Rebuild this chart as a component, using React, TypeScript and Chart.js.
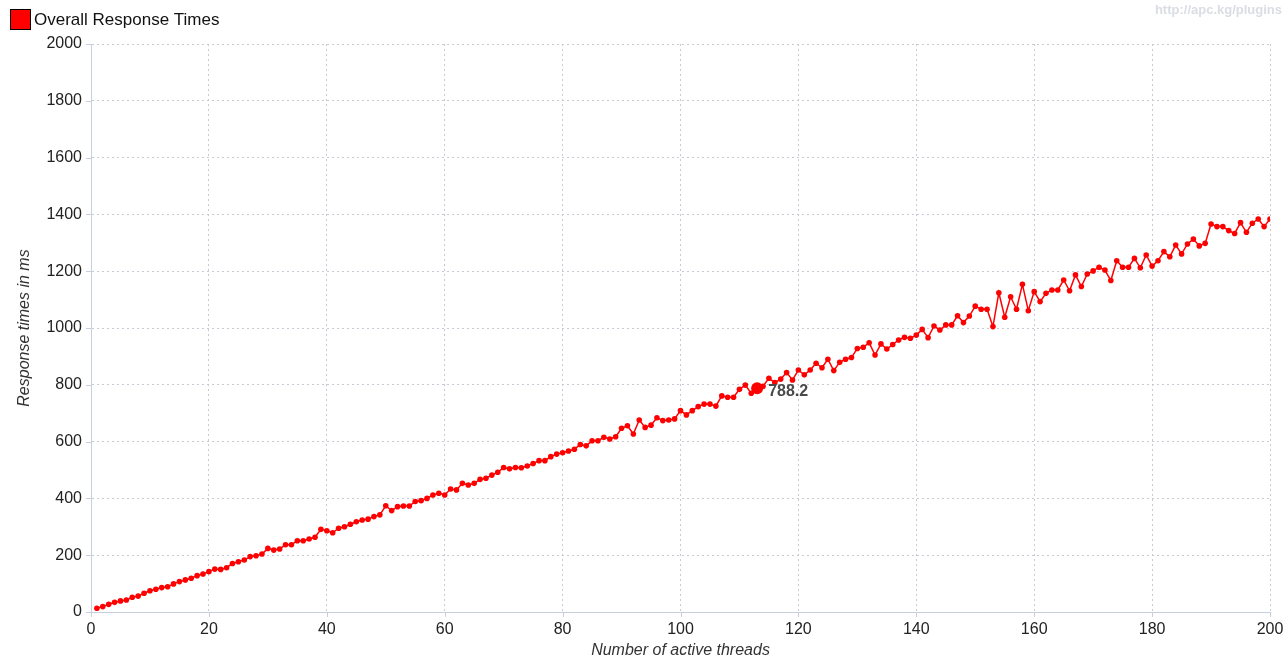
import React, { useEffect, useRef } from "react";
import { Chart, registerables } from "chart.js";

Chart.register(...registerables);

const seriesLabel = "Overall Response Times";
const xTitle = "Number of active threads";
const yTitle = "Response times in ms";
const watermark = "http://apc.kg/plugins";

const threads: number[] = Array.from({ length: 200 }, (_, i) => i + 1);

const responseTimes: number[] = [
  13, 19, 27, 34, 39, 42, 52, 56, 66, 75, 80, 86, 89, 99, 107, 113, 119, 128, 134, 142,
  151, 150, 156, 171, 177, 183, 195, 198, 204, 224, 218, 222, 237, 237,
  251, 251, 257, 263, 291, 286, 279, 295, 300, 309, 318, 324, 327, 336, 342, 374,
  357, 371, 373, 373, 389, 392, 400, 412, 418, 412, 433, 430, 453, 447, 453, 467, 471,
  482, 492, 509, 504, 509, 508, 514, 523, 533, 533, 547, 556, 561, 567, 573, 590, 585,
  603, 603, 615, 609, 617, 647, 656, 627, 676, 650, 658, 684, 674, 676, 680, 709,
  694, 709, 723, 732, 732, 725, 761, 756, 756, 784, 799, 770, 788.2, 795, 823, 808, 820,
  843, 817, 852, 835, 852, 876, 860, 890, 850, 879, 890, 896, 928, 932, 948, 905, 944,
  926, 942, 958, 967, 964, 975, 995, 966, 1007, 993, 1011, 1011, 1043, 1019, 1042, 1077,
  1066, 1066, 1005, 1124, 1038, 1110, 1066, 1154, 1061, 1128, 1093, 1122, 1134, 1134,
  1169, 1131, 1187,
  1146, 1190, 1201, 1214, 1204, 1167, 1237, 1214, 1214, 1245, 1212, 1257, 1218, 1237,
  1269, 1251, 1292, 1261, 1296, 1313, 1289, 1298, 1366, 1357, 1357, 1343, 1333, 1371,
  1337, 1369, 1384, 1357, 1384,
];

const highlightThread = 113;

const xMin = 0;
const xMax = 200;
const xStep = 20;
const yMin = 0;
const yMax = 2000;
const yStep = 200;

const FONT = "'Liberation Sans', Arial, sans-serif";
const GRID = "#c6cad2";
const AXIS = "#c5cfdd";
const RED = "#ff0000";

const decorPlugin = {
  id: "decor",
  afterDraw(chart: any) {
    const ctx = chart.ctx as CanvasRenderingContext2D;
    const area = chart.chartArea;
    const xs = chart.scales.x;
    const ys = chart.scales.y;
    ctx.save();
    // tick marks
    ctx.strokeStyle = AXIS;
    ctx.lineWidth = 1;
    ctx.setLineDash([]);
    ctx.beginPath();
    xs.ticks.forEach((t: any) => {
      const px = Math.round(xs.getPixelForValue(t.value)) + 0.5;
      ctx.moveTo(px, area.bottom);
      ctx.lineTo(px, area.bottom + 5);
    });
    ys.ticks.forEach((t: any) => {
      const py = Math.round(ys.getPixelForValue(t.value)) + 0.5;
      ctx.moveTo(area.left - 5, py);
      ctx.lineTo(area.left, py);
    });
    ctx.stroke();

    // axis titles
    ctx.fillStyle = "#333333";
    ctx.font = `italic 16px ${FONT}`;
    ctx.textAlign = "center";
    ctx.textBaseline = "middle";
    ctx.fillText(xTitle, (area.left + area.right) / 2, 651);
    ctx.save();
    ctx.translate(25, (area.top + area.bottom) / 2);
    ctx.rotate(-Math.PI / 2);
    ctx.fillText(yTitle, 0, 0);
    ctx.restore();

    // legend
    ctx.fillStyle = RED;
    ctx.fillRect(10, 9, 21, 21);
    ctx.strokeStyle = "#000000";
    ctx.lineWidth = 1;
    ctx.strokeRect(10.5, 9.5, 20, 20);
    ctx.fillStyle = "#111111";
    ctx.font = `17px ${FONT}`;
    ctx.textAlign = "left";
    ctx.textBaseline = "middle";
    ctx.fillText(seriesLabel, 34, 20.5);

    // watermark
    ctx.fillStyle = "#dadde3";
    ctx.font = `bold 13px ${FONT}`;
    ctx.textAlign = "right";
    ctx.textBaseline = "alphabetic";
    ctx.fillText(watermark, 1282, 14);

    // highlighted value label
    const meta = chart.getDatasetMeta(0);
    const idx = threads.indexOf(highlightThread);
    const el = meta.data[idx];
    if (el) {
      ctx.fillStyle = "#4a4a4a";
      ctx.font = `bold 16px ${FONT}`;
      ctx.textAlign = "left";
      ctx.textBaseline = "middle";
      ctx.fillText(String(responseTimes[idx]), el.x + 11, el.y + 3);
    }
    ctx.restore();
  },
};

export default function App() {
  const ref = useRef<HTMLCanvasElement | null>(null);

  useEffect(() => {
    if (!ref.current) return;
    const points = threads.map((t, i) => ({ x: t, y: responseTimes[i] }));
    const chart = new Chart(ref.current, {
      type: "line",
      data: {
        datasets: [
          {
            label: seriesLabel,
            data: points,
            borderColor: RED,
            backgroundColor: RED,
            borderWidth: 1.5,
            pointRadius: (c: any) => (threads[c.dataIndex] === highlightThread ? 6 : 2.8),
            pointBorderWidth: 0,
            pointBackgroundColor: RED,
            tension: 0,
          },
        ],
      },
      options: {
        responsive: false,
        animation: false,
        events: [],
        layout: { padding: { left: 0, top: 44, right: 16, bottom: 0 } },
        plugins: {
          legend: { display: false },
          tooltip: { enabled: false },
          title: { display: false },
        },
        scales: {
          x: {
            type: "linear",
            min: xMin,
            max: xMax,
            afterFit: (s: any) => {
              s.height = 48;
              s.paddingRight = 0;
              s.paddingLeft = 0;
            },
            ticks: {
              stepSize: xStep,
              color: "#222222",
              font: { family: FONT, size: 16 },
              padding: 8,
              maxRotation: 0,
              callback: (v: any) => String(v),
            },
            grid: { color: GRID, drawTicks: false, lineWidth: 1 },
            border: { display: true, color: AXIS, width: 1, dash: [2, 3] },
          },
          y: {
            type: "linear",
            min: yMin,
            max: yMax,
            afterFit: (s: any) => {
              s.width = 91;
              s.paddingTop = 0;
              s.paddingBottom = 0;
            },
            ticks: {
              stepSize: yStep,
              color: "#222222",
              font: { family: FONT, size: 16 },
              padding: 9,
              callback: (v: any) => String(v),
            },
            grid: { color: GRID, drawTicks: false, lineWidth: 1 },
            border: { display: true, color: AXIS, width: 1, dash: [2, 3] },
          },
        },
      },
      plugins: [decorPlugin],
    });
    return () => chart.destroy();
  }, []);

  return (
    <div style={{ position: "fixed", left: 0, top: 0, width: 1286, height: 660, background: "#ffffff" }}>
      <canvas ref={ref} width={1286} height={660} style={{ width: 1286, height: 660, display: "block" }} />
    </div>
  );
}
